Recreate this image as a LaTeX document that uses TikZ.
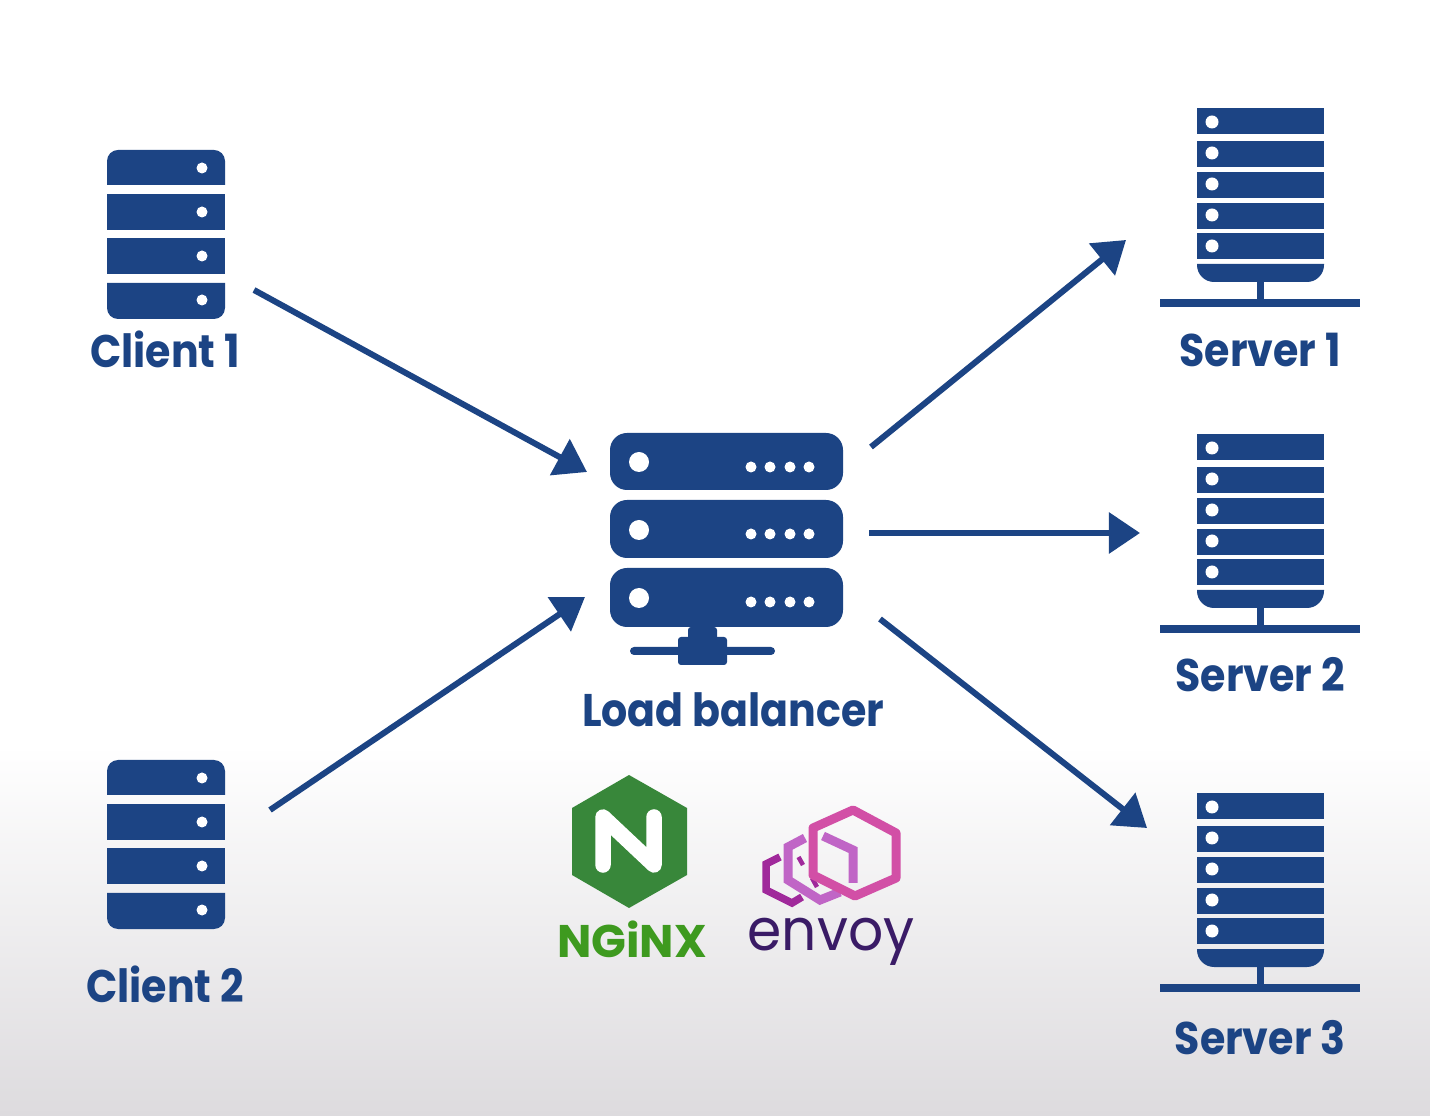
\documentclass[tikz,border=0pt]{standalone}
\usepackage{fontspec}
\usepackage{xcolor}
\usetikzlibrary{arrows.meta, positioning, calc}
\newfontfamily\lblfont{Poppins}[FakeStretch=0.9]
\newfontfamily\logofont{Poppins}
\newfontfamily\envfont{Poppins}[FakeStretch=0.95]
\definecolor{srvblue}{HTML}{1C4484}
\definecolor{ngxgreen}{HTML}{38873A}
\definecolor{ngxtext}{HTML}{3E9A1F}
\definecolor{envpink}{HTML}{D24FA6}
\definecolor{envlilac}{HTML}{C065C6}
\definecolor{envpurple}{HTML}{A0299B}
\definecolor{envtext}{HTML}{3A1B66}
\definecolor{bgbottom}{HTML}{DDDBDE}
\tikzset{
  lbl/.style={font=\lblfont\bfseries\fontsize{13}{16}\selectfont, text=srvblue, inner sep=0pt},
  arc/.style={-{Triangle[length=0.31cm, width=0.40cm]}, srvblue, line width=0.06cm},
  dot/.style={white},
  envline/.style={line width=0.09cm, miter limit=10},
  clienticon/.pic={
    \fill[srvblue] (0,35) [rounded corners=0.11cm] -- (0,0) -- (118,0) [sharp corners] -- (118,35) -- cycle;
    \fill[srvblue] (0,44) rectangle (118,80);
    \fill[srvblue] (0,88) rectangle (118,124);
    \fill[srvblue] (0,133) [sharp corners] -- (118,133) [rounded corners=0.11cm] -- (118,169) -- (0,169) [sharp corners] -- (0,133) -- cycle;
    \foreach \y in {18,62,106,150} \fill[dot] (95,\y) circle (5.5);
  },
  servericon/.pic={
    \foreach \y in {0,33,64,95,125} \fill[srvblue] (37,\y) rectangle (164,\y+26);
    \fill[srvblue] (37,156) -- (164,156) [rounded corners=0.17cm] -- (164,174) -- (37,174) [sharp corners] -- cycle;
    \fill[srvblue] (97,174) rectangle (104,192);
    \fill[srvblue] (0,191) rectangle (200,199);
    \foreach \y in {14,45,76,107,138} \fill[dot] (52,\y) circle (6.5);
  },
  lbicon/.pic={
    \foreach \y/\h in {0/57,67/58,135/59} {
      \fill[srvblue, rounded corners=0.17cm] (0,\y) rectangle (233,\y+\h);
    }
    \foreach \y in {29,97,165} \fill[dot] (29,\y) circle (10);
    \foreach \y in {34,101,169}
      \foreach \x in {141,160,180,199} \fill[dot] (\x,\y) circle (5.5);
    \fill[srvblue, rounded corners=0.03cm] (78,194) rectangle (107,210);
    \fill[srvblue, rounded corners=0.03cm] (68,204) rectangle (117,232);
    \fill[srvblue, rounded corners=0.04cm] (20,214) rectangle (165,222);
  }
}
\begin{document}
\begin{tikzpicture}[x=0.01cm, y=-0.01cm]
  \useasboundingbox (0,0) rectangle (1430,1116);
  \fill[white] (0,0) rectangle (1430,745);
  \shade[top color=white, bottom color=bgbottom] (0,745) rectangle (1430,1116);

  % clients
  \pic (clienta) at (107,150) {clienticon};
  \pic (clientb) at (107,760) {clienticon};
  \node[lbl] (clientalbl) at (165,349) {Client 1};
  \node[lbl] (clientblbl) at (165,984) {Client 2};

  % load balancer
  \pic (lb) at (610,433) {lbicon};
  \node[lbl] (lblbl) at (733,710) {Load balancer};

  % servers
  \foreach \name/\y/\ly/\n in {a/108/350/1, b/434/675/2, c/793/1038/3} {
    \pic (server\name) at (1160,\y) {servericon};
    \node[lbl] (server\name lbl) at (1260,\ly) {Server \n};
  }

  % connector ends
  \coordinate (c1out) at (254,290);
  \coordinate (c2out) at (270,810);
  \coordinate (lbin1) at (587,472);
  \coordinate (lbin2) at (585,597);
  \coordinate (lbout1) at (871,447);
  \coordinate (lbout2) at (869,533);
  \coordinate (lbout3) at (880,619);
  \coordinate (s1in) at (1126,240);
  \coordinate (s2in) at (1140,533);
  \coordinate (s3in) at (1147,828);
  \draw[arc] (c1out) -- (lbin1);
  \draw[arc] (c2out) -- (lbin2);
  \draw[arc] (lbout1) -- (s1in);
  \draw[arc] (lbout2) -- (s2in);
  \draw[arc] (lbout3) -- (s3in);

  % nginx logo
  \fill[ngxgreen] (629,775) -- (687,808) -- (687,875) -- (629,908) -- (572,875) -- (572,808) -- cycle;
  \draw[white, line width=0.155cm, line cap=round, line join=round]
    (603,865) -- (603,817) -- (654,865) -- (654,817);
  \node[font=\logofont\bfseries\fontsize{13}{14}\selectfont, text=ngxtext, inner sep=0pt] (nginx) at (632,939) {NGiNX};

  % envoy logo
  \draw[envline, envpurple, line width=0.075cm] (780,857) -- (766,864) -- (766,890) -- (792,903) -- (802,897);
  \draw[envline, envlilac] (805,838) -- (788,847) -- (788,880) -- (820,900) -- (840,892);
  \draw[envpurple, line width=0.045cm] (798.5,857) -- (803,865);
  \draw[envpurple, line width=0.045cm] (812,878) -- (817,887);
  \draw[envline, envlilac] (823,836) -- (853,850) -- (853,883);
  \draw[envline, envpink, line join=round] (853,810) -- (896,833) -- (896,878) -- (855,896) -- (813,875) -- (813,828) -- cycle;
  \node[font=\envfont\fontsize{16.5}{18}\selectfont, text=envtext, inner sep=0pt] (envoy) at (831,942) {envoy};
\end{tikzpicture}
\end{document}
